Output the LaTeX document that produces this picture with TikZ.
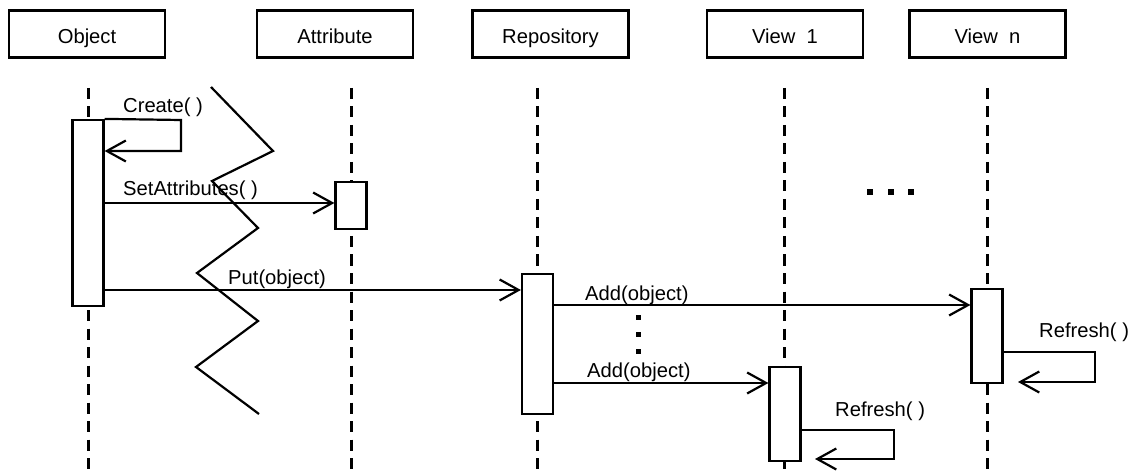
\documentclass[tikz,border=0pt]{standalone}
\usepackage{fontspec}
\setmainfont{Liberation Sans}
\usetikzlibrary{arrows.meta}
\begin{document}
\begin{tikzpicture}[x=1pt,y=-1pt,
  every node/.style={font=\fontsize{20.2}{23}\selectfont},
  header/.style={draw,line width=2.2pt,minimum width=156pt,minimum height=47pt,inner sep=0pt,text height=20pt,text depth=0pt},
  lifeline/.style={line width=3pt,dash pattern=on 11pt off 7.5pt},
  act/.style={draw,fill=white,line width=2.2pt,minimum width=31pt,inner sep=0pt},
  msg/.style={line width=2.2pt,-{Straight Barb[length=19pt,width=21pt,line width=2.2pt]}},
  plain/.style={line width=2.2pt},
  lbl/.style={anchor=base west,inner sep=0pt},
  dot/.style={fill=black,minimum size=5pt,inner sep=0pt}]
\useasboundingbox (0,0) rectangle (1130,473);
% headers
\node[header] (hO) at (87,34) {Object};
\node[header] (hA) at (335,34) {Attribute};
\node[header] (hR) at (550.5,34) {Repository};
\node[header] (hV1) at (785,34) {View\ \ 1};
\node[header] (hVn) at (987.5,34) {View\ \ n};
% lifeline ends
\coordinate (tO) at (88,88);   \coordinate (bO) at (88,473);
\coordinate (tA) at (351,88);  \coordinate (bA) at (351,473);
\coordinate (tR) at (537,88);  \coordinate (bR) at (537,473);
\coordinate (tV1) at (784,88); \coordinate (bV1) at (784,473);
\coordinate (tVn) at (987,88); \coordinate (bVn) at (987,473);
\draw[lifeline] (tO) -- (bO);
\draw[lifeline] (tA) -- (bA);
\draw[lifeline] (tR) -- (bR);
\draw[lifeline] (tV1) -- (bV1);
\draw[lifeline] (tVn) -- (bVn);
% zigzag
\draw[plain] (211,87) -- (273,151) -- (212,181) -- (258,228) -- (197,273) -- (258,321) -- (196,367) -- (259,414);
% activations
\node[act,minimum height=186pt] (aO) at (88,213) {};
\node[act,minimum height=47pt] (aA) at (351,205.5) {};
\node[act,minimum height=140pt] (aR) at (537.5,344) {};
\node[act,minimum height=94pt] (aV1) at (785,414) {};
\node[act,minimum height=94pt] (aVn) at (987,336) {};
% Create self-call
\coordinate (c1) at (181,120);
\coordinate (c2) at (181,151);
\draw[msg] (aO.north east) -- (c1) -- (c2) -- (aO.east |- c2);
\node[lbl] (lCreate) at (123,113) {Create( )};
% SetAttributes
\coordinate (ySA) at (0,203);
\draw[msg] (aO.east |- ySA) -- (aA.west |- ySA);
\node[lbl] (lSA) at (123,196) {SetAttributes( )};
% Put
\coordinate (yPut) at (0,290);
\draw[msg] (aO.east |- yPut) -- (aR.west |- yPut);
\node[lbl] (lPut) at (228,284) {Put(object)};
% Add 1
\coordinate (yAdd1) at (0,305);
\draw[msg] (aR.east |- yAdd1) -- (aVn.west |- yAdd1);
\node[lbl] (lAdd1) at (585,300) {Add(object)};
% Add 2
\coordinate (yAdd2) at (0,383);
\draw[msg] (aR.east |- yAdd2) -- (aV1.west |- yAdd2);
\node[lbl] (lAdd2) at (587,377) {Add(object)};
% vertical dots
\node[dot] (d1) at (638,317) {};
\node[dot] (d2) at (638,334) {};
\node[dot] (d3) at (638,351) {};
% horizontal dots
\node[dot,minimum size=6pt] (h1) at (870,192) {};
\node[dot,minimum size=6pt] (h2) at (891,192) {};
\node[dot,minimum size=6pt] (h3) at (911,192) {};
% Refresh on View n
\coordinate (rn0) at (0,352);
\coordinate (rn1) at (1095,352);
\coordinate (rn2) at (1095,382);
\coordinate (rn3) at (1018,382);
\draw[msg] (aVn.east |- rn0) -- (rn1) -- (rn2) -- (rn3);
\node[lbl] (lRn) at (1039,337) {Refresh( )};
% Refresh on View 1
\coordinate (r10) at (0,430);
\coordinate (r11) at (894,430);
\coordinate (r12) at (894,459);
\coordinate (r13) at (815,459);
\draw[msg] (aV1.east |- r10) -- (r11) -- (r12) -- (r13);
\node[lbl] (lR1) at (835,416) {Refresh( )};
\end{tikzpicture}
\end{document}
